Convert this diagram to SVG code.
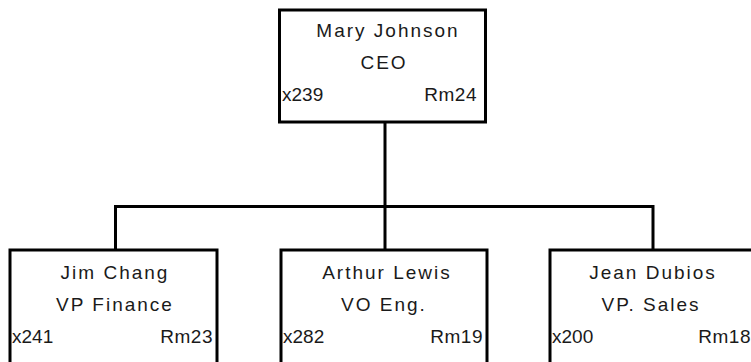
<svg xmlns="http://www.w3.org/2000/svg" width="751" height="362" viewBox="0 0 751 362">
<style>
.box{fill:#fff;stroke:#000;stroke-width:3}
.wire{fill:none;stroke:#000;stroke-width:3}
text{font-family:"Liberation Sans",Arial,sans-serif;font-size:19px;fill:#1a1a1a;letter-spacing:1.5px}
.c{text-anchor:middle;letter-spacing:2px}
.r{text-anchor:end;letter-spacing:0.5px}
.l{letter-spacing:0}
</style>
<rect width="751" height="362" fill="#fff"/>
<g id="connectors">
<path class="wire" d="M385,122 V206.5 M115.5,206.5 H653 M115.5,205 V250 M385,206.5 V250 M653,205 V250"/>
</g>
<g id="mary">
<rect class="box" x="279.5" y="10" width="206" height="112"/>
<text class="c" x="388" y="37">Mary Johnson</text>
<text class="c" x="384" y="69">CEO</text>
<text class="l" x="282" y="101">x239</text>
<text class="r" x="477" y="101">Rm24</text>
</g>
<g id="jim">
<rect class="box" x="10" y="250" width="207" height="130"/>
<text class="c" x="115" y="279">Jim Chang</text>
<text class="c" x="115" y="311">VP Finance</text>
<text class="l" x="12" y="343">x241</text>
<text class="r" x="213" y="343">Rm23</text>
</g>
<g id="arthur">
<rect class="box" x="281" y="250" width="206" height="130"/>
<text class="c" x="387" y="279">Arthur Lewis</text>
<text class="c" x="384" y="311">VO Eng.</text>
<text class="l" x="283" y="343">x282</text>
<text class="r" x="483" y="343">Rm19</text>
</g>
<g id="jean">
<rect class="box" x="550" y="250" width="207" height="130"/>
<text class="c" x="653" y="279">Jean Dubios</text>
<text class="c" x="651" y="311">VP. Sales</text>
<text class="l" x="552" y="343">x200</text>
<text class="r" x="751" y="343">Rm18</text>
</g>
</svg>
